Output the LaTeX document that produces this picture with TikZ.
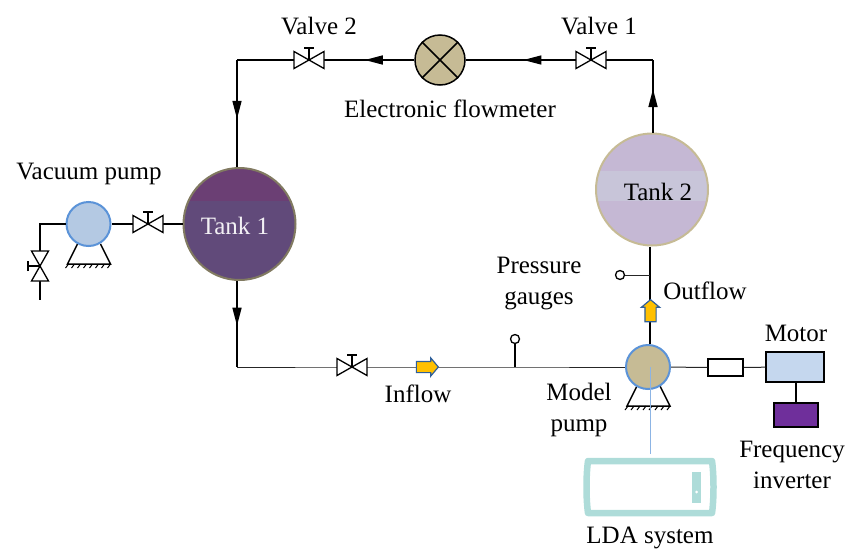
\documentclass[tikz,border=0pt]{standalone}
\usepackage{fontspec}
\setmainfont{Liberation Serif}
\usetikzlibrary{arrows.meta,decorations.markings,shapes.arrows}
\definecolor{tankdark}{HTML}{614A7A}
\definecolor{tankband}{HTML}{6B3F74}
\definecolor{tankpale}{HTML}{C5B8D4}
\definecolor{tankmist}{HTML}{C8C5D9}
\definecolor{khaki}{HTML}{C6BB95}
\definecolor{pumpblue}{HTML}{B4C9E3}
\definecolor{rimblue}{HTML}{5B93D8}
\definecolor{motorblue}{HTML}{C5D7EE}
\definecolor{drivepurple}{HTML}{6F2F9B}
\definecolor{ldateal}{HTML}{AEDCD9}
\definecolor{flowgold}{HTML}{FFC000}
\definecolor{flowrim}{HTML}{2F5F9A}
\tikzset{
  lbl/.style={font=\fontsize{25}{31}\selectfont,align=center,inner sep=0pt},
  tank/.style={circle,minimum size=112pt,inner sep=0pt,line width=2pt},
  pumpbody/.style={circle,minimum size=44pt,inner sep=0pt,draw=rimblue,line width=2pt},
  pipe/.style={line width=1.5pt},
  thinpipe/.style={line width=1pt,black!85},
  flowmark/.style={postaction={decorate},decoration={markings,
    mark=at position #1 with {\arrow{Triangle[length=18pt,width=9pt]}}}},
  gauge/.style={circle,draw,fill=white,line width=1.3pt,minimum size=9pt,inner sep=0pt},
  flowblock/.style={single arrow,draw=flowrim,fill=flowgold,line width=1.2pt,inner sep=5pt,
    minimum width=17pt,minimum height=22pt,single arrow head extend=3.5pt,single arrow tip angle=100},
  valve/.pic={
    \draw[line width=1.3pt,fill=white,line join=miter](-15,-8.5)--(15,8.5)--(15,-8.5)--(-15,8.5)--cycle;
    \draw[line width=1.3pt](0,0)--(0,-12)(-5,-12)--(5,-12);
  },
  pedestal/.pic={
    \draw[line width=1.5pt](-11,20)--(-21,40)--(22,40)--(12,20);
    \foreach \k in {-20,-14,...,22}{\draw[line width=1pt](\k,40)--(\k-3,44);}
  }
}
\begin{document}
\begin{tikzpicture}[x=1pt,y=-1pt]
  \useasboundingbox (0,0) rectangle (846,552);
  \pic at (88.5,224) {pedestal};
  \pic at (648,366) {pedestal};
  \node[tank,fill=tankdark,draw=black!35!khaki,
    path picture={\fill[tankband](-60,-60) rectangle(60,-23);}] (tank1) at (239.5,224){};
  \node[lbl,text=white!92!tankdark] (tank1txt) at (235,226){Tank 1};
  \node[tank,fill=tankpale,draw=khaki,
    path picture={\fill[tankmist](-60,-18.5) rectangle(60,11.5);}] (tank2) at (652,189.5){};
  \node[lbl] (tank2txt) at (658,192){Tank 2};
  \node[pumpbody,fill=pumpblue] (vacpump) at (88.5,224){};
  \node[pumpbody,fill=khaki] (modelpump) at (648,367){};
  \node[circle,draw,fill=khaki,minimum size=50pt,inner sep=0pt,line width=1.5pt] (meter) at (440,60){};
  \draw[line width=1.5pt](meter.north west)--(meter.south east)(meter.north east)--(meter.south west);
  \node[draw,line width=1.5pt,fill=white,minimum width=35pt,minimum height=17pt,inner sep=0pt] (coupling) at (725.5,367.5){};
  \node[draw,line width=1.5pt,fill=motorblue,minimum width=58pt,minimum height=30pt,inner sep=0pt] (motor) at (795,367){};
  \node[draw,line width=1.5pt,fill=drivepurple,minimum width=44pt,minimum height=24pt,inner sep=0pt] (inverter) at (796,415){};
  \node[minimum width=126pt,minimum height=52pt,inner sep=0pt,outer sep=7pt] (lda) at (650,487){};
  \draw[ldateal,line width=6.5pt,line join=round] (588,461)--(712,461) .. controls (714,475) and (714,499) .. (712,513)--(588,513) .. controls (586,499) and (586,475) .. cycle;
  \node[fill=ldateal,minimum width=9pt,minimum height=31pt,inner sep=0pt] (ldaslot) at (696.5,487.5){};
  \node[circle,fill=white,minimum size=3pt,inner sep=0pt] (ldadot) at (696.7,492){};

  \coordinate (valve1) at (591,60);
  \coordinate (valve2) at (309,60);
  \coordinate (valve3) at (352,367);
  \coordinate (valve4) at (148,224);
  \coordinate (valve5) at (40,266);
  \coordinate (cornerNE) at (653,60);
  \coordinate (cornerNW) at (237,60);
  \coordinate (cornerSW) at (237,367);
  \coordinate (cornerW) at (40,224);
  \coordinate (ventend) at (40,300);
  \coordinate (outjoin) at (650,275);
  \coordinate (injoin) at (515,367);

  \draw[pipe,flowmark=0.6] (tank2.north -| cornerNE)--(cornerNE);
  \draw[pipe] (cornerNE)--(valve1);
  \draw[pipe,flowmark=0.54] (valve1)--(meter);
  \draw[pipe,flowmark=0.47] (meter)--(valve2);
  \draw[pipe] (valve2)--(cornerNW);
  \draw[pipe,flowmark=0.55] (cornerNW)--(tank1.north -| cornerNW);
  \draw[pipe,flowmark=0.52] (tank1.south -| cornerSW)--(cornerSW);
  \draw[thinpipe] (cornerSW)--(valve3)--(injoin)--(modelpump);
  \draw[pipe] (tank1)--(valve4)--(vacpump);
  \draw[pipe] (vacpump)--(cornerW)--(valve5)--(ventend);
  \draw[pipe] (tank2.south -| outjoin)--(modelpump.north -| outjoin);
  \draw[thinpipe] (modelpump)--(coupling);
  \draw[thinpipe] (coupling)--(motor);
  \draw[pipe] (motor.south -| inverter.north)--(inverter.north);

  \node[gauge] (gaugein) at (515,339){};
  \node[gauge] (gaugeout) at (620,275){};
  \draw[pipe] (injoin)--(gaugein);
  \draw[thinpipe] (outjoin)--(gaugeout);

  \pic at (valve1) {valve};
  \pic at (valve2) {valve};
  \pic at (valve3) {valve};
  \pic at (valve4) {valve};
  \pic[rotate=90] at (valve5) {valve};

  \node[flowblock] (inarrow) at (425,367){};
  \node[flowblock,shape border rotate=90] (outarrow) at (650.5,313){};
  \draw[line width=0.8pt,rimblue!70] (lda.north |- modelpump.center)--(lda.north);

  \node[lbl] (vaclbl) at (89,174){Vacuum pump};
  \node[lbl] (v2lbl) at (319,26){Valve 2};
  \node[lbl] (v1lbl) at (599,26){Valve 1};
  \node[lbl] (meterlbl) at (450,109){Electronic flowmeter};
  \node[lbl] (gaugelbl) at (539,284){Pressure\\gauges};
  \node[lbl] (outlbl) at (705,291){Outflow};
  \node[lbl] (inlbl) at (418,394){Inflow};
  \node[lbl] (pumplbl) at (579,410){Model\\pump};
  \node[lbl] (motorlbl) at (796,333){Motor};
  \node[lbl] (invlbl) at (792,465){Frequency\\inverter};
  \node[lbl] (ldalbl) at (650,538){LDA system};
\end{tikzpicture}
\end{document}
